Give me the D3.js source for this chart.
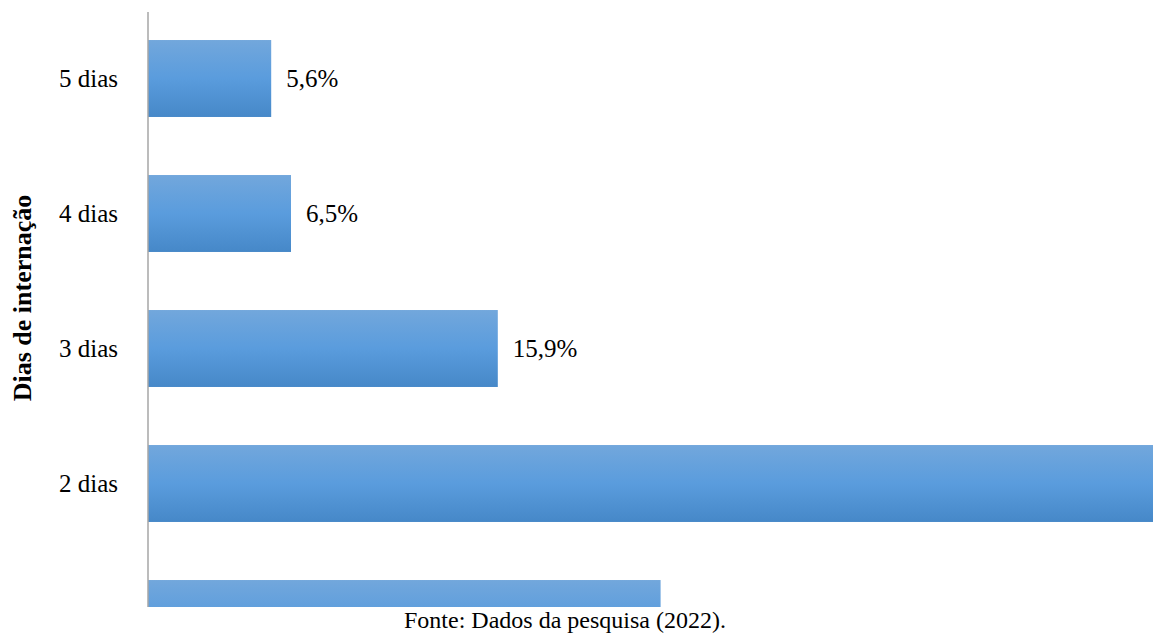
<!DOCTYPE html>
<html>
<head>
<meta charset="utf-8">
<script src="https://cdn.jsdelivr.net/npm/d3@7"></script>
<style>
  html, body { margin: 0; padding: 0; background: #ffffff; }
  svg { display: block; }
  text { font-family: "Liberation Serif", "Times New Roman", serif; fill: #000; }
</style>
</head>
<body>
<svg id="chart" width="1153" height="634"></svg>
<script>
// Days of hospitalisation, listed top to bottom
const categories = ["5 dias", "4 dias", "3 dias", "2 dias", "1 dia"];
// Share of patients (%)
const values = [5.6, 6.5, 15.9, 48.7, 23.3];
const axisTitle = "Dias de internação";
const sourceNote = "Fonte: Dados da pesquisa (2022).";

const data = categories.map((c, i) => ({ cat: c, val: values[i] }));
const fmt = v => v.toFixed(1).replace(".", ",") + "%";

const svg = d3.select("#chart");
const W = 1153, H = 634;
const axisX = 148, plotBottom = 607;

const x = d3.scaleLinear().domain([0, 50]).range([axisX, axisX + 1100]);
const y = d3.scaleBand()
  .domain(categories)
  .range([11, 686])
  .paddingInner(0.43)
  .paddingOuter(0.215);

const defs = svg.append("defs");
const grad = defs.append("linearGradient")
  .attr("id", "barFill").attr("x1", 0).attr("y1", 0).attr("x2", 0).attr("y2", 1);
grad.append("stop").attr("offset", "0%").attr("stop-color", "#72a7dc");
grad.append("stop").attr("offset", "50%").attr("stop-color", "#5a9cdd");
grad.append("stop").attr("offset", "100%").attr("stop-color", "#4688c8");

defs.append("clipPath").attr("id", "plotClip")
  .append("rect").attr("x", 0).attr("y", 0).attr("width", W).attr("height", plotBottom);

const plot = svg.append("g").attr("clip-path", "url(#plotClip)");

// Bars (the plot area is cropped at the bottom and right edges)
plot.selectAll("rect.bar")
  .data(data)
  .join("rect")
  .attr("class", "bar")
  .attr("x", x(0))
  .attr("y", d => y(d.cat))
  .attr("width", d => x(d.val) - x(0))
  .attr("height", y.bandwidth())
  .attr("fill", "url(#barFill)");

// Only rows whose band is fully inside the visible plot get labels
const inView = d => y(d.cat) + y.bandwidth() <= plotBottom;

// Value labels (skipped when the bar runs past the right edge)
plot.selectAll("text.val")
  .data(data.filter(d => inView(d) && x(d.val) + 80 < W))
  .join("text")
  .attr("class", "val")
  .attr("x", d => x(d.val) + 15)
  .attr("y", d => y(d.cat) + y.bandwidth() / 2)
  .attr("dy", "0.35em")
  .attr("font-size", 25)
  .text(d => fmt(d.val));

// Category labels
plot.selectAll("text.cat")
  .data(data.filter(inView))
  .join("text")
  .attr("class", "cat")
  .attr("x", axisX - 30)
  .attr("y", d => y(d.cat) + y.bandwidth() / 2)
  .attr("dy", "0.35em")
  .attr("text-anchor", "end")
  .attr("font-size", 25)
  .text(d => d.cat);

// Axis line
svg.append("line")
  .attr("x1", axisX).attr("x2", axisX)
  .attr("y1", 12).attr("y2", plotBottom)
  .attr("stroke", "#a6a6a6").attr("stroke-width", 1.5);

// Axis title
svg.append("text")
  .attr("transform", `translate(31,${298}) rotate(-90)`)
  .attr("text-anchor", "middle")
  .attr("font-size", 26)
  .attr("font-weight", "bold")
  .text(axisTitle);

// Source note
svg.append("text")
  .attr("x", 565)
  .attr("y", 628)
  .attr("text-anchor", "middle")
  .attr("font-size", 24)
  .text(sourceNote);
</script>
</body>
</html>
